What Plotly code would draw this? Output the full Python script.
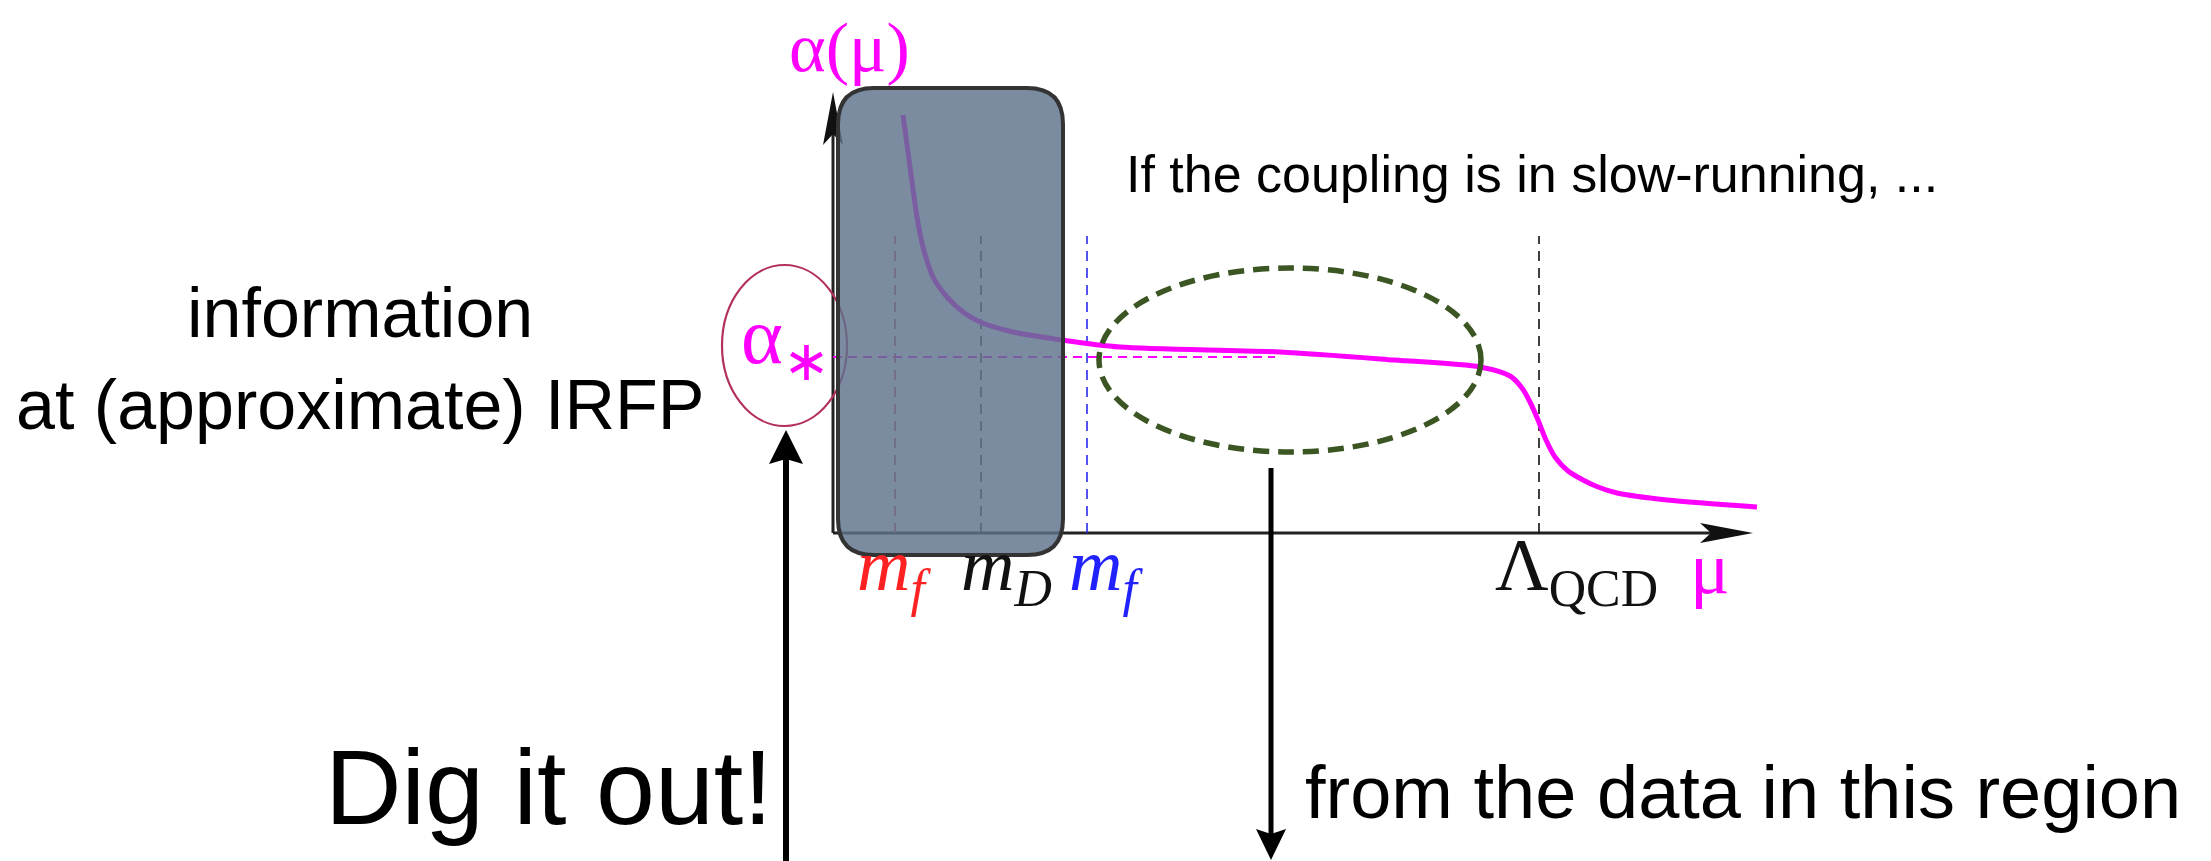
import plotly.graph_objects as go

# ---- data (diagram units: 1 unit = 100 px, origin at the axes corner) ----
mu_vals = [0.70, 0.77, 0.84, 0.90, 1.00, 1.14, 1.30, 1.47, 1.80, 2.29, 2.87, 4.47,
           5.61, 6.47, 6.77, 6.89, 6.97, 7.05, 7.13, 7.22, 7.35, 7.50, 7.65, 7.84, 8.34, 9.24]
alpha_vals = [4.18, 3.66, 3.16, 2.86, 2.56, 2.36, 2.21, 2.11, 2.01, 1.93, 1.86, 1.81,
              1.73, 1.66, 1.57, 1.45, 1.31, 1.13, 0.93, 0.76, 0.62, 0.53, 0.46, 0.40, 0.33, 0.26]
alpha_star = 1.76
scale_marks = [0.62, 1.48, 2.54, 7.06]          # m_f (red), m_D, m_f (blue), Lambda_QCD
scale_colors = ["rgb(190,60,80)", "#333333", "#2a2aee", "#111111"]
scale_labels = ["<i>m</i><sub><i>f</i></sub>", "<i>m</i><sub><i>D</i></sub>",
                "<i>m</i><sub><i>f</i></sub>", "Λ<sub>QCD</sub>"]
label_colors = ["#ff2222", "#111111", "#2222ff", "#111111"]

W, H = 2211, 861
OFF = 8                       # page body margin of the html page
X0, Y0 = 833, 533
def X(px): return (px - X0) / 100.0
def Y(py): return (Y0 - py) / 100.0

fig = go.Figure()
fig.add_trace(go.Scatter(x=mu_vals, y=alpha_vals, mode="lines",
                         line=dict(color="#ff00ff", width=5, shape="spline", smoothing=0.8),
                         hoverinfo="skip", showlegend=False))

shapes = []
# axes
shapes.append(dict(type="line", x0=0, y0=0, x1=X(1712), y1=0, line=dict(color="#222", width=3), layer="below"))
shapes.append(dict(type="line", x0=0, y0=0, x1=0, y1=Y(132), line=dict(color="#222", width=3), layer="below"))
# alpha* dashed horizontal
shapes.append(dict(type="line", x0=0, y0=alpha_star, x1=X(1275), y1=alpha_star,
                   line=dict(color="#ff00ff", width=2, dash="9px,6px"), layer="below"))
# vertical dashed marks
for xm, c in zip(scale_marks, scale_colors):
    shapes.append(dict(type="line", x0=xm, y0=0, x1=xm, y1=Y(236),
                       line=dict(color=c, width=1.6, dash="10px,7px"), layer="below"))
# arrowheads of axes (pixel-sized)
shapes.append(dict(type="path", xsizemode="pixel", ysizemode="pixel", xanchor=0, yanchor=Y(92),
                   path="M0,0 L-10,-53 L0,-42 L10,-53 Z", fillcolor="#111", line=dict(width=0)))
shapes.append(dict(type="path", xsizemode="pixel", ysizemode="pixel", xanchor=X(1753), yanchor=0,
                   path="M0,0 L-53,10 L-42,0 L-53,-10 Z", fillcolor="#111", line=dict(width=0)))
# red ellipse around alpha*
shapes.append(dict(type="circle", x0=X(722), x1=X(847), y0=Y(426), y1=Y(265),
                   line=dict(color="#b3305c", width=2.2)))
# green dashed ellipse
shapes.append(dict(type="circle", x0=X(1099), x1=X(1481), y0=Y(452), y1=Y(268),
                   line=dict(color="#3b5523", width=5.5, dash="16px,9px")))
# gray rounded box (above)
L, R, T, B, r = X(838), X(1063), Y(88), Y(555), 0.36
box = (f"M{L+r},{T} L{R-r},{T} Q{R},{T} {R},{T-r} L{R},{B+r} Q{R},{B} {R-r},{B} "
       f"L{L+r},{B} Q{L},{B} {L},{B+r} L{L},{T-r} Q{L},{T} {L+r},{T} Z")
shapes.append(dict(type="path", path=box, fillcolor="rgba(94,115,140,0.82)",
                   line=dict(color="#333333", width=4), layer="above"))
# long arrows
shapes.append(dict(type="line", x0=X(786), y0=Y(900), x1=X(786), y1=Y(455),
                   line=dict(color="#000", width=6)))
shapes.append(dict(type="path", xsizemode="pixel", ysizemode="pixel", xanchor=X(786), yanchor=Y(430),
                   path="M0,0 L-17,-34 L0,-29 L17,-34 Z", fillcolor="#000", line=dict(width=0)))
shapes.append(dict(type="line", x0=X(1271), y0=Y(468), x1=X(1271), y1=Y(838),
                   line=dict(color="#000", width=5)))
shapes.append(dict(type="path", xsizemode="pixel", ysizemode="pixel", xanchor=X(1271), yanchor=Y(860),
                   path="M0,0 L-15,31 L0,26 L15,31 Z", fillcolor="#000", line=dict(width=0)))

ann = []
SANS = "Liberation Sans"
SERIF = "Liberation Serif"
def text(t, px, py, size, color="#000", family=SANS, xanchor="center"):
    ann.append(dict(text=t, x=X(px), y=Y(py), xref="x", yref="y", showarrow=False,
                    xanchor=xanchor, yanchor="middle", font=dict(family=family, size=size, color=color)))

text("If the coupling is in slow-running, ...", 1124, 174, 52, xanchor="left")
text("information", 360, 313, 70)
text("at (approximate) IRFP", 360, 405, 70)
text("Dig it out!", 775, 787, 106, xanchor="right")
text("from the data in this region", 1303, 792, 74, xanchor="left")

text("α(μ)", 849, 47, 70, color="#ff00ff", family=SERIF)
text("α<sub>∗</sub>", 785, 342, 80, color="#ff00ff", family=SERIF)
label_px = [855, 959, 1067, 1493]
for lp, lab, c in zip(label_px, scale_labels, label_colors):
    text(lab, lp, 570, 74, color=c, family=SERIF, xanchor="left")
text("μ", 1688, 568, 74, color="#ff00ff", family=SERIF, xanchor="left")

fig.update_layout(width=W - OFF, height=H - OFF, margin=dict(l=0, r=0, t=0, b=0),
                  paper_bgcolor="white", plot_bgcolor="white",
                  xaxis=dict(range=[X(OFF), X(W)], visible=False, fixedrange=True),
                  yaxis=dict(range=[Y(H), Y(OFF)], visible=False, fixedrange=True),
                  shapes=shapes, annotations=ann, showlegend=False)
fig.write_html("out.html")
